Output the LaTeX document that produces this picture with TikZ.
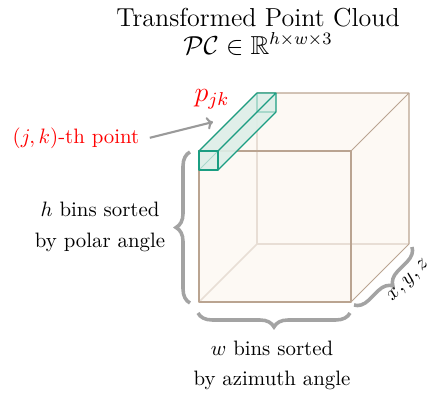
\documentclass[tikz,border=0pt]{standalone}
\usepackage{amsmath,amssymb}
\usetikzlibrary{decorations.pathreplacing,arrows.meta}
\definecolor{cubeedge}{HTML}{BAA491}
\definecolor{cubefill}{HTML}{FDF9F4}
\definecolor{hiddenedge}{HTML}{E8DED5}
\definecolor{tealc}{HTML}{1B9E82}
\definecolor{tealfill}{HTML}{DDEFE8}
\definecolor{tealhidden}{HTML}{A8D8CB}
\definecolor{bracegray}{HTML}{A3A3A3}
\definecolor{arrowgray}{HTML}{9A9A9A}
\tikzset{
  bracestyle/.style={draw=bracegray, line width=1.7pt, decorate,
    decoration={brace, amplitude=6.7pt}},
  cubeline/.style={draw=cubeedge, line width=0.5pt, line join=round},
  hiddenline/.style={draw=hiddenedge, line width=0.8pt},
  barline/.style={draw=tealc, line width=0.55pt, line join=round},
  barhidden/.style={draw=tealhidden, line width=0.5pt},
  lbl/.style={anchor=base, inner sep=0pt},
  pointer/.style={draw=arrowgray, line width=1pt, -{To[length=3pt,width=6pt]}}
}
\begin{document}
\begin{tikzpicture}[x=0.48pt,y=-0.48pt]
\useasboundingbox (0,0) rectangle (430,396);
% cube corners
\coordinate (A) at (199,151);
\coordinate (B) at (351,151);
\coordinate (C) at (351,302);
\coordinate (D) at (199,302);
\coordinate (E) at (257,93);
\coordinate (F) at (409,93);
\coordinate (G) at (409,244);
\coordinate (H) at (257,244);
\fill[cubefill] (D) -- (A) -- (E) -- (F) -- (G) -- (C) -- cycle;
\draw[hiddenline] (E) -- (H) -- (G);
\draw[hiddenline] (H) -- (D);
\draw[cubeline] (A) -- (B) -- (C) -- (D) -- cycle;
\draw[cubeline] (A) -- (E) -- (F) -- (B);
\draw[cubeline] (F) -- (G) -- (C);
% teal bar
\coordinate (a) at (199,151);
\coordinate (b) at (218,151);
\coordinate (c) at (218,170);
\coordinate (d) at (199,170);
\coordinate (e) at (257,93);
\coordinate (f) at (276,93);
\coordinate (g) at (276,112);
\coordinate (h) at (257,112);
\fill[tealfill, opacity=0.9] (d) -- (a) -- (e) -- (f) -- (g) -- (c) -- cycle;
\draw[barhidden] (e) -- (h) -- (g);
\draw[barhidden] (h) -- (d);
\draw[barline] (a) -- (b) -- (c) -- (d) -- cycle;
\draw[barline] (a) -- (e) -- (f) -- (b);
\draw[barline] (f) -- (g) -- (c);
% titles
\node[lbl, font=\large, scale=1.04] (title) at (258,26) {Transformed Point Cloud};
\node[lbl, font=\large, scale=1.04] (space) at (258,54) {$\mathcal{PC}\in\mathbb{R}^{h\times w\times 3}$};
% point labels
\node[red, font=\large, scale=1.12] (pjk) at (212,99) {$p_{jk}$};
\node[red, anchor=base] (pt) at (76,143) {$(j,k)$-th point};
\coordinate (tgt) at (213,122);
\draw[pointer] ([xshift=1.5pt]pt.east) -- (tgt);
% braces
\draw[bracestyle] (190,303) -- (190,152);
\draw[bracestyle] (350,313) -- (198,313);
\draw[bracestyle] ([shift={(3,3)}]G) -- ([shift={(3,3)}]C);
% brace labels
\node[lbl] (h1) at (100,216) {$h$ bins sorted};
\node[lbl] (h2) at (100,247) {by polar angle};
\node[lbl] (w1) at (272,355) {$w$ bins sorted};
\node[lbl] (w2) at (272,385) {by azimuth angle};
\node[rotate=45, inner sep=0pt] (xyz) at (409,281) {$x,y,z$};
\end{tikzpicture}
\end{document}
